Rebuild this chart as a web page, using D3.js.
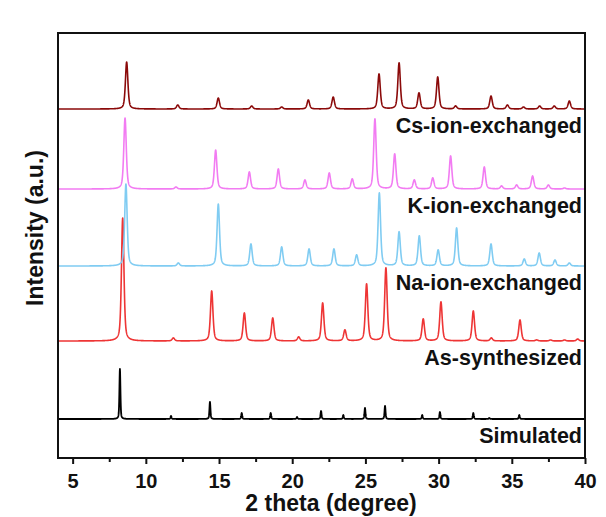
<!DOCTYPE html>
<html>
<head>
<meta charset="utf-8">
<script src="https://cdn.jsdelivr.net/npm/d3@7"></script>
<style>
  body { margin: 0; background: #fff; }
  svg text { font-family: "Liberation Sans", Arial, sans-serif; font-weight: bold; fill: #111; }
</style>
</head>
<body>
<div id="chart"></div>
<script>
// peak lists: [2theta, intensity (a.u.)]
const simulatedPeaks = [[8.23,50],[11.72,3],[14.38,17],[16.55,6],[18.53,6],[20.33,2],[21.97,8],[23.49,4],[24.97,11],[26.34,13],[28.88,4],[30.09,7],[32.37,6],[33.46,1],[35.51,4]];
const asSynthPeaks = [[8.42,123],[11.88,3],[14.5,50],[16.73,28],[18.67,23],[20.44,4],[22.08,38],[23.6,11],[25.08,57],[26.4,73],[28.95,22],[30.16,39],[32.37,30],[33.6,3],[35.56,21],[36.7,1],[37.65,1],[38.6,1],[39.5,2]];
const naPeaks = [[8.64,82],[12.22,3],[14.95,62],[17.18,22],[19.28,19],[21.15,17],[22.85,17],[24.4,11],[25.95,73],[27.3,34],[28.68,30],[29.97,16],[31.23,38],[33.58,22],[35.85,7],[36.87,13],[37.95,6],[38.93,3]];
const kPeaks = [[8.58,71],[12.06,2],[14.77,39],[17.07,17],[19.05,20],[20.87,9],[22.53,16],[24.1,10],[25.65,70],[27.0,35],[28.34,9],[29.6,11],[30.82,33],[33.12,22],[34.3,3],[35.33,4],[36.42,13],[37.5,4],[38.6,1]];
const csPeaks = [[8.69,47],[12.18,4],[14.95,11],[17.23,3],[19.28,2],[21.1,9],[22.8,12],[25.93,35],[27.3,46],[28.66,16],[29.94,32],[31.16,3],[33.58,13],[34.7,4],[35.8,2],[36.9,3],[37.9,3],[38.93,8]];

const seriesNames = ["Simulated", "As-synthesized", "Na-ion-exchanged", "K-ion-exchanged", "Cs-ion-exchanged"];
const seriesPeaks = [simulatedPeaks, asSynthPeaks, naPeaks, kPeaks, csPeaks];
const seriesOffsets = [39, 117, 192, 269, 349];
const seriesColors = ["#000000", "#ee3535", "#80ccf2", "#f27cf2", "#8b0a0a"];
const peakWidths = [0.08, 0.2, 0.2, 0.2, 0.2];

const xTicks = [5, 10, 15, 20, 25, 30, 35, 40];
const xMinorTicks = [7.5, 12.5, 17.5, 22.5, 27.5, 32.5, 37.5];

const width = 606, height = 517;
const margin = {top: 33, right: 21, bottom: 59, left: 58};

const svg = d3.select("#chart").append("svg")
    .attr("width", width)
    .attr("height", height);

const x = d3.scaleLinear().domain([4, 40]).range([margin.left, width - margin.right]);
const y = d3.scaleLinear().domain([0, 425]).range([height - margin.bottom, margin.top]);

// pseudo-voigt profile built from the peak list
function profile(peaks, w) {
    const pts = [];
    for (let t = 4; t <= 40.0001; t += 0.01) {
        let s = 0;
        peaks.forEach(([p, h]) => {
            const d = (t - p) / (w / 2);
            s += h * (0.5 / (1 + d * d) + 0.5 * Math.exp(-Math.LN2 * d * d));
        });
        pts.push([t, s]);
    }
    return pts;
}

const line = d3.line().x(d => x(d[0]));

seriesNames.forEach((name, i) => {
    const off = seriesOffsets[i];
    svg.append("path")
        .datum(profile(seriesPeaks[i], peakWidths[i]))
        .attr("fill", "none")
        .attr("stroke", seriesColors[i])
        .attr("stroke-width", i === 0 ? 1.8 : 1.6)
        .attr("stroke-linejoin", "round")
        .attr("d", line.y(d => y(d[1] + off)));

    svg.append("text")
        .attr("x", x(40) - 3)
        .attr("y", y(off) + 24)
        .attr("text-anchor", "end")
        .style("font-size", "21.5px")
        .text(name);
});

// frame
svg.append("rect")
    .attr("x", margin.left)
    .attr("y", margin.top)
    .attr("width", width - margin.left - margin.right)
    .attr("height", height - margin.top - margin.bottom)
    .attr("fill", "none")
    .attr("stroke", "#111")
    .attr("stroke-width", 2);

const xAxis = svg.append("g")
    .attr("transform", `translate(0,${height - margin.bottom})`)
    .call(d3.axisBottom(x).tickValues(xTicks).tickSize(6).tickPadding(10));
xAxis.select(".domain").remove();
xAxis.selectAll("line").attr("stroke", "#111").attr("stroke-width", 2);
xAxis.selectAll("text").style("font-size", "20px").attr("fill", "#111");

const xMinor = svg.append("g")
    .attr("transform", `translate(0,${height - margin.bottom})`)
    .call(d3.axisBottom(x).tickValues(xMinorTicks).tickSize(4).tickFormat(""));
xMinor.select(".domain").remove();
xMinor.selectAll("line").attr("stroke", "#111").attr("stroke-width", 2);

svg.append("text")
    .attr("x", 331)
    .attr("y", 511)
    .attr("text-anchor", "middle")
    .style("font-size", "23px")
    .text("2 theta (degree)");

svg.append("text")
    .attr("transform", `translate(43,228) rotate(-90)`)
    .attr("text-anchor", "middle")
    .style("font-size", "23px")
    .text("Intensity (a.u.)");
</script>
</body>
</html>
